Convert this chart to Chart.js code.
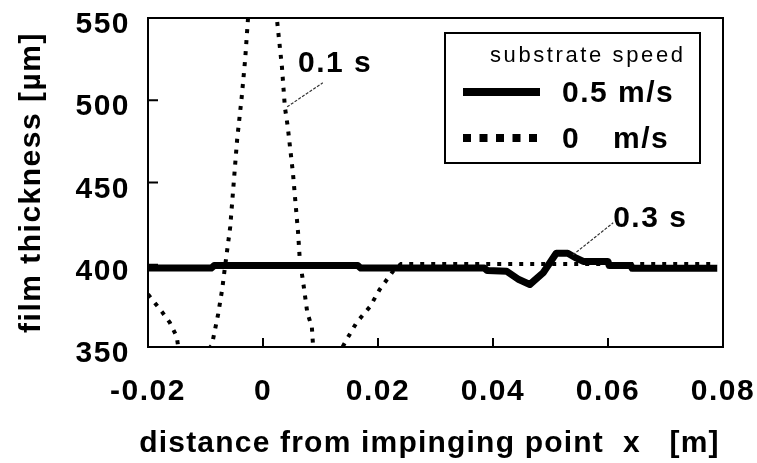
<!DOCTYPE html>
<html lang="en">
<head>
    <meta charset="UTF-8">
    <title>Film thickness</title>
    <script src="https://cdn.jsdelivr.net/npm/chart.js"></script>
    <style>
        body {
            margin: 0;
            background: #fff;
        }
        #wrap {
            width: 757px;
            height: 463px;
        }
    </style>
</head>
<body>
    <div id="wrap"><canvas id="chart" width="757" height="463"></canvas></div>

    <script>
        // axis ticks
        const xTicks = [-0.02, 0, 0.02, 0.04, 0.06, 0.08];
        const yTicks = [350, 400, 450, 500, 550];

        // substrate speed 0.5 m/s (solid line, 0.3 s)
        const movingX = [-0.02, -0.009, -0.0085, 0.0165, 0.017, 0.0385, 0.039, 0.0424, 0.0445, 0.0464,
                         0.0487, 0.051, 0.053, 0.0545, 0.0557, 0.06, 0.0602, 0.064, 0.0642, 0.079];
        const movingY = [398, 398, 399.5, 399.5, 398, 398, 396.5, 396, 391, 388,
                         395, 407, 407, 404, 402, 402, 399.5, 399.5, 397.8, 397.8];

        // substrate speed 0 m/s (dotted line, 0.1 s)
        const staticX = [-0.02, -0.0176, -0.0162, -0.015, -0.0148, -0.012, -0.0089, -0.0078, -0.0071, -0.0066,
                         -0.0057, -0.0045, -0.0037, -0.0031, -0.0026, 0, 0.0024, 0.0033, 0.0038, 0.0043,
                         0.0052, 0.0061, 0.0064, 0.007, 0.0077, 0.0085, 0.0087, 0.0115, 0.0143, 0.0163,
                         0.0186, 0.0203, 0.0226, 0.024, 0.079];
        const staticY = [382, 371.5, 364.8, 356.3, 351.4, 338, 351, 370, 385, 399,
                         423, 476, 502, 525, 550, 590, 550, 520, 496, 484,
                         456, 419.5, 403, 389, 371, 362, 351, 335, 353, 365,
                         374.5, 385, 396, 400.5, 400.5];

        const bold = 'bold 30px "Liberation Sans", Arial, sans-serif';

        function toPoints(xs, ys) {
            return xs.map((x, i) => ({ x: x, y: ys[i] }));
        }

        // frame, inward ticks, labels, legend and notes
        const decor = {
            id: 'decor',
            afterDraw(chart) {
                const { ctx, chartArea: a, scales: { x, y } } = chart;
                ctx.save();
                ctx.fillStyle = '#000';
                ctx.strokeStyle = '#000';

                // frame
                ctx.lineWidth = 2;
                ctx.strokeRect(a.left, a.top, a.right - a.left, a.bottom - a.top);

                // inward ticks
                ctx.beginPath();
                xTicks.forEach(v => {
                    const px = x.getPixelForValue(v);
                    if (px > a.left + 3 && px < a.right - 3) {
                        ctx.moveTo(px, a.bottom);
                        ctx.lineTo(px, a.bottom - 9);
                    }
                });
                yTicks.forEach(v => {
                    const py = y.getPixelForValue(v);
                    if (py > a.top + 3 && py < a.bottom - 3) {
                        ctx.moveTo(a.left, py);
                        ctx.lineTo(a.left + 10, py);
                    }
                });
                ctx.stroke();

                // tick labels
                ctx.font = bold;
                ctx.letterSpacing = '1.5px';
                ctx.textBaseline = 'alphabetic';
                ctx.textAlign = 'center';
                xTicks.forEach(v => {
                    ctx.fillText(String(v), x.getPixelForValue(v), a.bottom + 53);
                });
                ctx.textAlign = 'right';
                yTicks.forEach(v => {
                    ctx.fillText(String(v), a.left - 18, y.getPixelForValue(v) + 15);
                });

                // axis titles
                ctx.letterSpacing = '1.2px';
                ctx.textAlign = 'center';
                ctx.fillText('distance from impinging point  x   [m]', (a.left + a.right) / 2 - 6, 452);
                ctx.save();
                ctx.translate(40, (a.top + a.bottom) / 2);
                ctx.rotate(-Math.PI / 2);
                ctx.letterSpacing = '1.5px';
                ctx.fillText('film thickness [\u00b5m]', 0, 0);
                ctx.restore();

                // notes with leader lines
                ctx.letterSpacing = '1.5px';
                ctx.textAlign = 'left';
                ctx.fillText('0.1 s', x.getPixelForValue(0.0061), y.getPixelForValue(517));
                ctx.fillText('0.3 s', x.getPixelForValue(0.0609), y.getPixelForValue(423));
                ctx.lineWidth = 1.2;
                ctx.strokeStyle = '#333';
                ctx.setLineDash([3, 1.5]);
                ctx.beginPath();
                ctx.moveTo(x.getPixelForValue(0.0042), y.getPixelForValue(496));
                ctx.lineTo(x.getPixelForValue(0.0104), y.getPixelForValue(510.6));
                ctx.moveTo(x.getPixelForValue(0.0539), y.getPixelForValue(406));
                ctx.lineTo(x.getPixelForValue(0.0609), y.getPixelForValue(425.5));
                ctx.stroke();
                ctx.setLineDash([]);

                // legend
                ctx.fillStyle = '#fff';
                ctx.fillRect(445, 33, 255, 130);
                ctx.fillStyle = '#000';
                ctx.strokeStyle = '#000';
                ctx.lineWidth = 2;
                ctx.strokeRect(445, 33, 255, 130);

                ctx.font = '22px "Liberation Sans", Arial, sans-serif';
                ctx.letterSpacing = '2.6px';
                ctx.fillText('substrate speed', 490, 62);

                ctx.lineWidth = 8;
                ctx.beginPath();
                ctx.moveTo(463, 92);
                ctx.lineTo(540, 92);
                ctx.stroke();
                ctx.setLineDash([8, 8.5]);
                ctx.beginPath();
                ctx.moveTo(463, 138);
                ctx.lineTo(537, 138);
                ctx.stroke();
                ctx.setLineDash([]);

                ctx.font = bold;
                ctx.letterSpacing = '1.5px';
                ctx.fillText('0.5 m/s', 562, 102);
                ctx.fillText('0', 562, 148);
                ctx.fillText('m/s', 613, 148);

                ctx.restore();
            }
        };

        const ctx = document.getElementById('chart').getContext('2d');

        new Chart(ctx, {
            type: 'line',
            data: {
                datasets: [
                    {
                        label: '0 m/s',
                        data: toPoints(staticX, staticY),
                        borderColor: '#000',
                        borderWidth: 4,
                        borderDash: [4, 7],
                        borderCapStyle: 'butt',
                        pointRadius: 0,
                        tension: 0,
                        clip: 0
                    },
                    {
                        label: '0.5 m/s',
                        data: toPoints(movingX, movingY),
                        borderColor: '#000',
                        borderWidth: 7,
                        borderJoinStyle: 'round',
                        pointRadius: 0,
                        tension: 0,
                        clip: 0
                    }
                ]
            },
            options: {
                responsive: false,
                animation: false,
                layout: {
                    padding: { left: 148, top: 18, right: 34, bottom: 116 }
                },
                plugins: {
                    legend: { display: false },
                    tooltip: { enabled: false }
                },
                scales: {
                    x: {
                        type: 'linear',
                        display: false,
                        min: -0.02,
                        max: 0.08
                    },
                    y: {
                        display: false,
                        min: 350,
                        max: 550
                    }
                }
            },
            plugins: [decor]
        });
    </script>
</body>
</html>
